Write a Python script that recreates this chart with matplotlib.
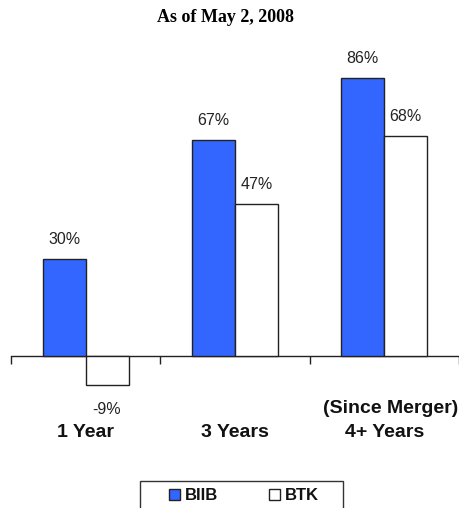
import matplotlib
matplotlib.use("Agg")
import matplotlib.pyplot as plt
from matplotlib.patches import Patch, Rectangle

categories = ["1 Year", "3 Years", "4+ Years"]
biib = [30, 67, 86]
btk = [-9, 47, 68]
series_names = ["BIIB", "BTK"]
title = "As of May 2, 2008"
note = "(Since Merger)"

plt.rcParams['font.family'] = ['Liberation Sans', 'DejaVu Sans']

fig = plt.figure(figsize=(4.6, 5.08), dpi=100)
W, H = 460, 508
ax_left, ax_right = 11, 459
ax_top, ax_bot = 40, 450
ax = fig.add_axes([ax_left / W, 1 - ax_bot / H, (ax_right - ax_left) / W, (ax_bot - ax_top) / H])

ppu = 3.23
ax.set_ylim(-(ax_bot - 356) / ppu, (356 - ax_top) / ppu)
ax.set_xlim(0, 3)

w = 0.288
blue = "#3366FF"
edge = '#222222'
txt = '#222222'
for i, (a, b) in enumerate(zip(biib, btk)):
    c = i + 0.5
    ax.bar(c - w, a, width=w, align='edge', color=blue, edgecolor=edge, linewidth=1.0, zorder=3)
    ax.bar(c, b, width=w, align='edge', color='white', edgecolor=edge, linewidth=1.0, zorder=3)
    ax.text(c - w / 2, a + 6.0, f"{a}%", ha='center', va='center', fontsize=11.5, color=txt)
    if b >= 0:
        ax.text(c + w / 2, b + 6.0, f"{b}%", ha='center', va='center', fontsize=11.5, color=txt)
    else:
        ax.text(c + w / 2 - 0.005, -16.7, f"{b}%", ha='center', va='center', fontsize=11.5, color=txt)
    ax.text(c, -23.8, categories[i], ha='center', va='center', fontsize=14,
            fontweight='bold', color='#111111')

ax.text(2.545, -16.1, note, ha='center', va='center', fontsize=14,
        fontweight='bold', color='#111111')

for s in ['top', 'right', 'left']:
    ax.spines[s].set_visible(False)
ax.spines['bottom'].set_position(('data', 0))
ax.spines['bottom'].set_color(edge)
ax.spines['bottom'].set_linewidth(1.0)
ax.set_yticks([])
ax.set_xticks([0, 1, 2, 3])
ax.set_xticklabels([])
ax.tick_params(axis='x', direction='out', length=6, width=1.0, color=edge)
ax.patch.set_visible(False)

fig.text(226 / W, 1 - 18 / H, title, ha='center', va='center', fontsize=13,
         fontweight='bold', family=['Liberation Serif', 'DejaVu Serif'])

handles = [Patch(facecolor=blue, edgecolor=edge, linewidth=1.0),
           Patch(facecolor='white', edgecolor=edge, linewidth=1.0)]
leg = fig.legend(handles, series_names, loc='center',
                 bbox_to_anchor=(244 / W, 1 - 496 / H), ncol=2, frameon=False,
                 fontsize=12, handlelength=0.65, handleheight=0.65,
                 handletextpad=0.3, columnspacing=3.1, borderpad=0, borderaxespad=0)
for t in leg.get_texts():
    t.set_fontweight('bold')
    t.set_color('#111111')

fig.patches.append(Rectangle((140 / W, 1 - 515 / H), 203 / W, 34 / H,
                             transform=fig.transFigure, fill=False,
                             edgecolor='#333333', linewidth=1.0))

fig.savefig("out.png", dpi=100)
